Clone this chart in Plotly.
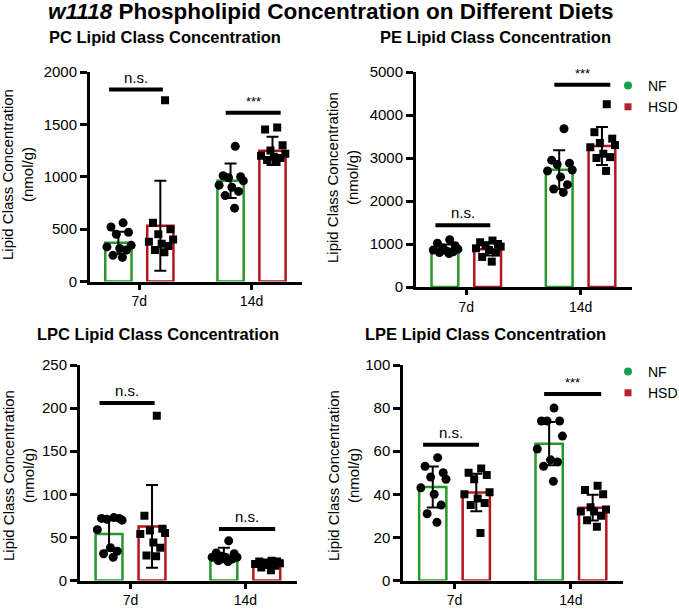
import plotly.graph_objects as go

# ---------------- data ----------------
groups = ["7d", "14d"]
diets = ["NF", "HSD"]

# PC (nmol/g)
pc_nf_pts = [[560, 520, 470, 450, 345, 330, 315, 300, 250, 230],
             [1290, 1010, 1000, 990, 960, 920, 900, 860, 820, 700]]
pc_hsd_pts = [[1730, 560, 500, 450, 400, 380, 360, 340, 300, 280],
              [1470, 1450, 1300, 1250, 1220, 1200, 1190, 1180, 1160, 1140]]
pc_nf_mean = [371, 962]
pc_nf_sd = [105, 165]
pc_hsd_mean = [533, 1248]
pc_hsd_sd = [430, 135]
pc_sig_y = [1832, 1610]
pc_sig_txt = ["n.s.", "***"]

# PE
pe_nf_pts = [[1100, 1020, 960, 900, 880, 860, 840, 820, 800, 780],
             [3680, 2950, 2880, 2850, 2720, 2700, 2560, 2380, 2280, 2200]]
pe_hsd_pts = [[1080, 1040, 1000, 970, 940, 900, 860, 800, 700, 590],
              [4250, 3600, 3450, 3350, 3300, 3250, 3100, 3020, 3000, 2700]]
pe_nf_mean = [891, 2729]
pe_nf_sd = [100, 450]
pe_hsd_mean = [880, 3279]
pe_hsd_sd = [150, 440]
pe_sig_y = [1434, 4705]
pe_sig_txt = ["n.s.", "***"]

# LPC
lpc_nf_pts = [[73, 72, 72, 71, 70, 59, 38, 34, 31, 27],
              [46, 32, 31, 28, 27, 27, 27, 25, 23, 22]]
lpc_hsd_pts = [[191, 75, 60, 58, 55, 54, 44, 38, 29, 28],
               [23, 22, 22, 21, 20, 19, 18, 17, 15, 12]]
lpc_nf_mean = [53.8, 29.6]
lpc_nf_sd = [19, 8.5]
lpc_hsd_mean = [62.7, 18.5]
lpc_hsd_sd = [48, 3.5]
lpc_sig_y = [205.8, 59.6]
lpc_sig_txt = ["n.s.", "n.s."]

# LPE
lpe_nf_pts = [[57, 53, 50, 48, 47, 43, 40, 35, 31, 27],
              [80, 74, 74, 74, 67, 61, 56, 55, 53, 46]]
lpe_hsd_pts = [[52, 50, 49, 47, 41, 40, 38, 36, 35, 22],
               [44, 42, 40, 34, 33, 32, 32, 30, 28, 25]]
lpe_nf_mean = [43.4, 63.5]
lpe_nf_sd = [9.5, 10]
lpe_hsd_mean = [40.8, 33.8]
lpe_hsd_sd = [8.7, 6]
lpe_sig_y = [63, 86.5]
lpe_sig_txt = ["n.s.", "***"]

# ---------------- style ----------------
W, H = 679, 610
FONT = "Liberation Sans, Arial, sans-serif"
GREEN = "#25992b"
RED = "#b5161e"
LEG_GREEN = "#16a04d"
LEG_RED = "#b8202a"
BAR_OFF = 0.187
BAR_W = 0.234
JIT = [0.35, -0.55, 0.75, -0.15, 0.95, -0.85, 0.1, 0.6, -0.4, 0.3]
JIT_SCALE = 0.12
SIG_SPAN = [(-0.27, 0.21), (-0.23, 0.26)]
YTICK_SIZE = 15
XTICK_SIZE = 14

panels = [
    dict(title="PC Lipid Class Concentration", nf=pc_nf_pts, hsd=pc_hsd_pts,
         nfm=pc_nf_mean, nfs=pc_nf_sd, hm=pc_hsd_mean, hs=pc_hsd_sd,
         sy=pc_sig_y, st=pc_sig_txt, ymax=2000, dtick=500,
         xd=(90, 302), yd=(281.5, 72), tpos=(165, 37), ytit=(17, 175)),
    dict(title="PE Lipid Class Concentration", nf=pe_nf_pts, hsd=pe_hsd_pts,
         nfm=pe_nf_mean, nfs=pe_nf_sd, hm=pe_hsd_mean, hs=pe_hsd_sd,
         sy=pe_sig_y, st=pe_sig_txt, ymax=5000, dtick=1000,
         xd=(416, 632), yd=(287, 72), tpos=(495, 37), ytit=(343, 178)),
    dict(title="LPC Lipid Class Concentration", nf=lpc_nf_pts, hsd=lpc_hsd_pts,
         nfm=lpc_nf_mean, nfs=lpc_nf_sd, hm=lpc_hsd_mean, hs=lpc_hsd_sd,
         sy=lpc_sig_y, st=lpc_sig_txt, ymax=250, dtick=50,
         xd=(80, 297), yd=(580.5, 365), tpos=(158, 334), ytit=(18, 476)),
    dict(title="LPE Lipid Class Concentration", nf=lpe_nf_pts, hsd=lpe_hsd_pts,
         nfm=lpe_nf_mean, nfs=lpe_nf_sd, hm=lpe_hsd_mean, hs=lpe_hsd_sd,
         sy=lpe_sig_y, st=lpe_sig_txt, ymax=100, dtick=20,
         xd=(403.3, 623.3), yd=(580.5, 365), tpos=(485, 334), ytit=(343, 476)),
]

fig = go.Figure()
annotations = []
layout_axes = {}

for k, p in enumerate(panels):
    n = k + 1
    xa = "x" if n == 1 else f"x{n}"
    ya = "y" if n == 1 else f"y{n}"
    cats = list(range(len(groups)))

    for pts, mean, sd, col, off, sym, msize in [
        (p["nf"], p["nfm"], p["nfs"], GREEN, -BAR_OFF, "circle", 9),
        (p["hsd"], p["hm"], p["hs"], RED, BAR_OFF, "square", 8),
    ]:
        fig.add_trace(go.Bar(
            x=[c + off for c in cats], y=mean, width=BAR_W,
            marker=dict(color="white", line=dict(color=col, width=2.5)),
            error_y=dict(type="data", array=sd, visible=True, color="black",
                         thickness=2, width=6),
            xaxis=xa, yaxis=ya, showlegend=False, hoverinfo="skip"))
        xs, ys = [], []
        for c, vals in zip(cats, pts):
            for j, v in enumerate(vals):
                xs.append(c + off + JIT[j % len(JIT)] * JIT_SCALE)
                ys.append(v)
        fig.add_trace(go.Scatter(
            x=xs, y=ys, mode="markers",
            marker=dict(symbol=sym, color="black", size=msize, line=dict(width=0)),
            xaxis=xa, yaxis=ya, showlegend=False, hoverinfo="skip"))

    # significance bars
    for c, yv, txt in zip(cats, p["sy"], p["st"]):
        lo, hi = SIG_SPAN[c]
        fig.add_trace(go.Scatter(
            x=[c + lo, c + hi], y=[yv, yv], mode="lines",
            line=dict(color="black", width=4),
            xaxis=xa, yaxis=ya, showlegend=False, hoverinfo="skip"))
        annotations.append(dict(
            x=c + (lo + hi) / 2, y=yv, xref=xa, yref=ya, text=txt,
            showarrow=False, yanchor="bottom", yshift=2,
            font=dict(size=15 if txt == "n.s." else 13, color="black", family=FONT)))

    layout_axes["xaxis" if n == 1 else f"xaxis{n}"] = dict(
        domain=[p["xd"][0] / W, p["xd"][1] / W], range=[-0.44, 1.45],
        anchor=ya, tickvals=cats, ticktext=groups, ticks="outside",
        ticklen=5, tickwidth=2.5, tickcolor="black", showline=True,
        linewidth=3, linecolor="black", showgrid=False, zeroline=False,
        tickfont=dict(size=XTICK_SIZE, color="black", family=FONT), fixedrange=True)
    layout_axes["yaxis" if n == 1 else f"yaxis{n}"] = dict(
        domain=[1 - p["yd"][0] / H, 1 - p["yd"][1] / H], range=[0, p["ymax"]],
        anchor=xa, dtick=p["dtick"], tick0=0, ticks="outside",
        ticklen=7, tickwidth=2.5, tickcolor="black", showline=True,
        linewidth=3, linecolor="black", showgrid=False, zeroline=False,
        tickfont=dict(size=YTICK_SIZE, color="black", family=FONT), fixedrange=True)

    annotations.append(dict(
        x=p["tpos"][0] / W, y=1 - p["tpos"][1] / H, xref="paper", yref="paper",
        text=f"<b>{p['title']}</b>", showarrow=False, xanchor="center", yanchor="middle",
        font=dict(size=16.5, color="black", family=FONT)))
    annotations.append(dict(
        x=p["ytit"][0] / W, y=1 - p["ytit"][1] / H, xref="paper", yref="paper",
        text="Lipid Class Concentration<br>(nmol/g)", textangle=-90, showarrow=False,
        xanchor="center", yanchor="middle",
        font=dict(size=15, color="black", family=FONT)))

# main title
annotations.append(dict(
    x=330 / W, y=1 - 12 / H, xref="paper", yref="paper",
    text="<b><i>w1118</i> Phospholipid Concentration on Different Diets</b>",
    showarrow=False, xanchor="center", yanchor="middle",
    font=dict(size=22.5, color="black", family=FONT)))

# legend entries
for leg, xa, ya in [("legend", "x2", "y2"), ("legend2", "x4", "y4")]:
    fig.add_trace(go.Scatter(x=[None], y=[None], mode="markers", name="NF",
                             marker=dict(symbol="circle", color=LEG_GREEN, size=8),
                             xaxis=xa, yaxis=ya, legend=leg, showlegend=True))
    fig.add_trace(go.Scatter(x=[None], y=[None], mode="markers", name="HSD",
                             marker=dict(symbol="square", color=LEG_RED, size=7),
                             xaxis=xa, yaxis=ya, legend=leg, showlegend=True))

leg_common = dict(xanchor="left", yanchor="top", bgcolor="rgba(0,0,0,0)",
                  font=dict(size=14, color="black", family=FONT),
                  itemwidth=30, tracegroupgap=0, borderwidth=0)

fig.update_layout(
    width=W, height=H, margin=dict(l=0, r=0, t=0, b=0, autoexpand=False),
    paper_bgcolor="white", plot_bgcolor="white", barmode="overlay",
    font=dict(family=FONT, color="black"),
    annotations=annotations,
    legend=dict(x=608 / W, y=1 - 70 / H, **leg_common),
    legend2=dict(x=608 / W, y=1 - 356 / H, **leg_common),
    **layout_axes)

fig.write_html("out.html",
               config={"displayModeBar": False},
               post_script="document.body.style.margin='0';document.body.style.overflow='hidden';")
